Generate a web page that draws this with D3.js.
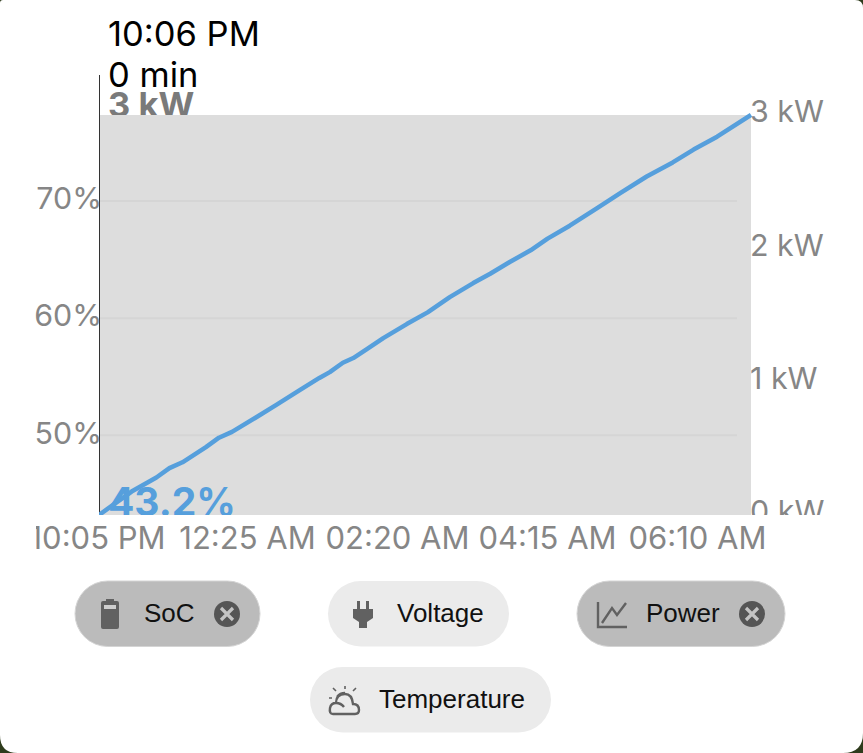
<!DOCTYPE html>
<html>
  <head>
    <meta charset="utf-8">
    <title>Charge session</title>
    <script src="https://d3js.org/d3.v7.min.js"></script>
    <style>
      html, body { margin: 0; padding: 0; background: #2e3b1c; overflow: hidden; }
      svg { display: block; }
      text { font-family: Inter, Roboto, sans-serif; }
    </style>
  </head>
  <body>
    <svg width="863" height="753"></svg>

    <script>
      // ====================================
      // Data
      // ====================================
      const minutes = [0, 10, 25, 44, 54, 64, 82, 92, 102, 120, 136, 153, 169, 177, 187, 195, 206, 218, 236,
        252, 269, 287, 300, 315, 331, 344, 361, 382, 400, 420, 440, 456, 474, 500];
      const soc = [43.2, 44.0, 45.2, 46.4, 47.2, 47.7, 49.0, 49.8, 50.3, 51.5, 52.6, 53.8, 54.9, 55.4, 56.2, 56.6, 57.4, 58.3, 59.5,
        60.5, 61.8, 63.0, 63.8, 64.8, 65.8, 66.8, 67.9, 69.4, 70.7, 72.1, 73.3, 74.4, 75.5, 77.35];

      const timeLabels = ["10:05 PM", "12:25 AM", "02:20 AM", "04:15 AM", "06:10 AM"];
      const socTicks = [50, 60, 70];
      const powerTicks = [0, 1, 2, 3];
      const chipLabels = ["SoC", "Voltage", "Power", "Temperature"];
      const chipActive = [true, false, true, false];

      const svg = d3.select("svg");

      const plot = { left: 99, right: 751, top: 115, bottom: 515 };

      // ==================
      // Card background
      // ==================
      svg.append("path")
        .attr("d", "M3,0 H855 Q863,0 863,8 V733 Q863,753 843,753 H18 Q0,753 0,735 V3 Q0,0 3,0 Z")
        .attr("fill", "#fff");

      // ==================
      // Scales
      // ==================
      const x = d3.scaleLinear().domain([0, 500]).range([plot.left, plot.right]);
      const ySoc = d3.scaleLinear().domain([43.2, 77.35]).range([plot.bottom, plot.top]);
      const yPower = d3.scaleLinear().domain([0, 3]).range([plot.bottom, plot.top]);
      const xLabels = d3.scalePoint().domain(timeLabels).range([97, 697]);

      const defs = svg.append("defs");
      defs.append("clipPath").attr("id", "plot-clip").append("rect")
        .attr("x", plot.left).attr("y", plot.top - 2)
        .attr("width", plot.right - plot.left + 1).attr("height", plot.bottom - plot.top + 2);
      defs.append("clipPath").attr("id", "right-clip").append("rect")
        .attr("x", plot.right).attr("y", 90).attr("width", 112).attr("height", plot.bottom - 90);
      defs.append("clipPath").attr("id", "bottom-clip").append("rect")
        .attr("x", 36).attr("y", 516).attr("width", 827).attr("height", 50);

      // ==================
      // Readout at the top, the plot covers the foot of "3 kW"
      // ==================
      svg.append("text").attr("x", 108).attr("y", 46).attr("font-size", 34.5).attr("fill", "#000").text("10:06 PM");
      svg.append("text").attr("x", 108).attr("y", 87).attr("font-size", 34.5).attr("fill", "#000").text("0 min");
      svg.append("text").attr("x", 108).attr("y", 117).attr("font-size", 34.5).attr("font-weight", 700)
        .attr("fill", "#7a7a7a").text("3 kW");

      svg.append("rect")
        .attr("x", plot.left).attr("y", plot.top)
        .attr("width", plot.right - plot.left).attr("height", plot.bottom - plot.top)
        .attr("fill", "#dddddd");

      // grid lines
      svg.append("g").selectAll("line")
        .data(socTicks)
        .enter()
        .append("line")
          .attr("x1", plot.left)
          .attr("x2", 737)
          .attr("y1", function(d) { return ySoc(d); })
          .attr("y2", function(d) { return ySoc(d); })
          .attr("stroke", "#d5d5d5")
          .attr("stroke-width", 2);

      // ==================
      // Axes
      // ==================
      function styleAxis(g, size) {
        g.select(".domain").remove();
        g.selectAll(".tick line").remove();
        g.selectAll("text").attr("font-size", size).attr("fill", "#868686")
          .style("font-family", "Inter, Roboto, sans-serif");
      }

      svg.append("line")
        .attr("x1", plot.left + 0.5).attr("x2", plot.left + 0.5)
        .attr("y1", 75).attr("y2", plot.bottom)
        .attr("stroke", "#333").attr("stroke-width", 1);

      svg.append("g")
        .attr("transform", "translate(" + plot.left + ",-2)")
        .call(d3.axisLeft(ySoc).tickValues(socTicks).tickSize(0).tickPadding(-3)
          .tickFormat(function(d) { return d + "%"; }))
        .call(styleAxis, 30.4);

      svg.append("g")
        .attr("clip-path", "url(#right-clip)")
        .append("g")
        .attr("transform", "translate(" + (plot.right - 1) + ",-3)")
        .call(d3.axisRight(yPower).tickValues(powerTicks).tickSize(0).tickPadding(0)
          .tickFormat(function(d) { return d + " kW"; }))
        .call(styleAxis, 30.4);

      svg.append("g")
        .attr("clip-path", "url(#bottom-clip)")
        .append("g")
        .attr("transform", "translate(0,527)")
        .call(d3.axisBottom(xLabels).tickSize(0).tickPadding(0))
        .call(styleAxis, 31);

      // ==================
      // Line and its value
      // ==================
      const line = d3.line()
        .x(function(d, i) { return x(minutes[i]); })
        .y(function(d) { return ySoc(d); });

      const plotArea = svg.append("g").attr("clip-path", "url(#plot-clip)");

      plotArea.append("path")
        .attr("d", line(soc))
        .attr("fill", "none")
        .attr("stroke", "#569fdc")
        .attr("stroke-width", 4.5)
        .attr("stroke-linejoin", "round");

      plotArea.append("text")
        .attr("x", 108).attr("y", 516)
        .attr("font-size", 39).attr("font-weight", 700)
        .attr("fill", "#569fdc")
        .text(soc[0].toFixed(1) + "%");

      // ==================
      // Chips
      // ==================
      const chipBoxes = [
        { x: 75, y: 581, w: 185, textX: 144, closeX: 227 },
        { x: 328, y: 581, w: 181, textX: 397 },
        { x: 577, y: 581, w: 208, textX: 646, closeX: 752 },
        { x: 310, y: 667, w: 241, textX: 379 }
      ];
      const chipHeight = 65.5;

      const chips = svg.append("g").selectAll("g")
        .data(chipLabels)
        .enter()
        .append("g");

      chips.append("rect")
        .attr("x", function(d, i) { return chipBoxes[i].x; })
        .attr("y", function(d, i) { return chipBoxes[i].y; })
        .attr("width", function(d, i) { return chipBoxes[i].w; })
        .attr("height", chipHeight)
        .attr("rx", chipHeight / 2)
        .attr("fill", function(d, i) { return chipActive[i] ? "#bbbbbb" : "#ebebeb"; })
        .attr("stroke", function(d, i) { return chipActive[i] ? "#d4d4d4" : "none"; });

      chips.append("text")
        .attr("x", function(d, i) { return chipBoxes[i].textX; })
        .attr("y", function(d, i) { return chipBoxes[i].y + 41; })
        .attr("font-size", 26)
        .attr("fill", "#111")
        .style("font-family", "'Liberation Sans', Arial, sans-serif")
        .text(function(d) { return d; });

      // close buttons on the active chips
      const closers = chips.filter(function(d, i) { return chipActive[i]; })
        .append("g")
        .attr("transform", function(d) {
          return "translate(" + chipBoxes[chipLabels.indexOf(d)].closeX + ",614)";
        });
      closers.append("circle").attr("r", 13).attr("fill", "#555");
      closers.append("path")
        .attr("d", "M-6,-6 L6,6 M6,-6 L-6,6")
        .attr("stroke", "#c4c4c4").attr("stroke-width", 3.2);

      // icons
      const iconColor = "#616161";

      // battery
      svg.append("path")
        .attr("d", "M106,599 H114 V601 H117 Q119,601 119,603 V627 Q119,629 117,629 H103 Q101,629 101,627 V603 Q101,601 103,601 H106 Z")
        .attr("fill", iconColor);
      svg.append("rect").attr("x", 104).attr("y", 605).attr("width", 12).attr("height", 4).attr("fill", "#cfcfcf");

      // plug
      svg.append("path")
        .attr("d", "M357,601 H360 V609 H366 V601 H369 V609 H373 V618 L367,622 V628 H359 V622 L353,618 V609 H357 Z")
        .attr("fill", iconColor);

      // line chart
      svg.append("path")
        .attr("d", "M598,602 V627 H627 M602,623 L612,608 L617,615 L626,603")
        .attr("fill", "none").attr("stroke", iconColor).attr("stroke-width", 2.4);

      // sun behind cloud
      svg.append("path")
        .attr("d", "M333,714 Q329,714 330,708 Q331,703 336,703 Q336,694 345,694 Q352,694 353,704 Q359,704 359,710 Q359,714 355,714 Z M336,703 Q341,703 344,707 M337,697 Q340,693 345,693")
        .attr("fill", "none").attr("stroke", iconColor).attr("stroke-width", 2.4);
      svg.append("path")
        .attr("d", "M333,688 L336,691 M345,686 V689 M356,688 L353,691 M329,698 H332")
        .attr("fill", "none").attr("stroke", iconColor).attr("stroke-width", 1.6);
    </script>
  </body>
</html>
